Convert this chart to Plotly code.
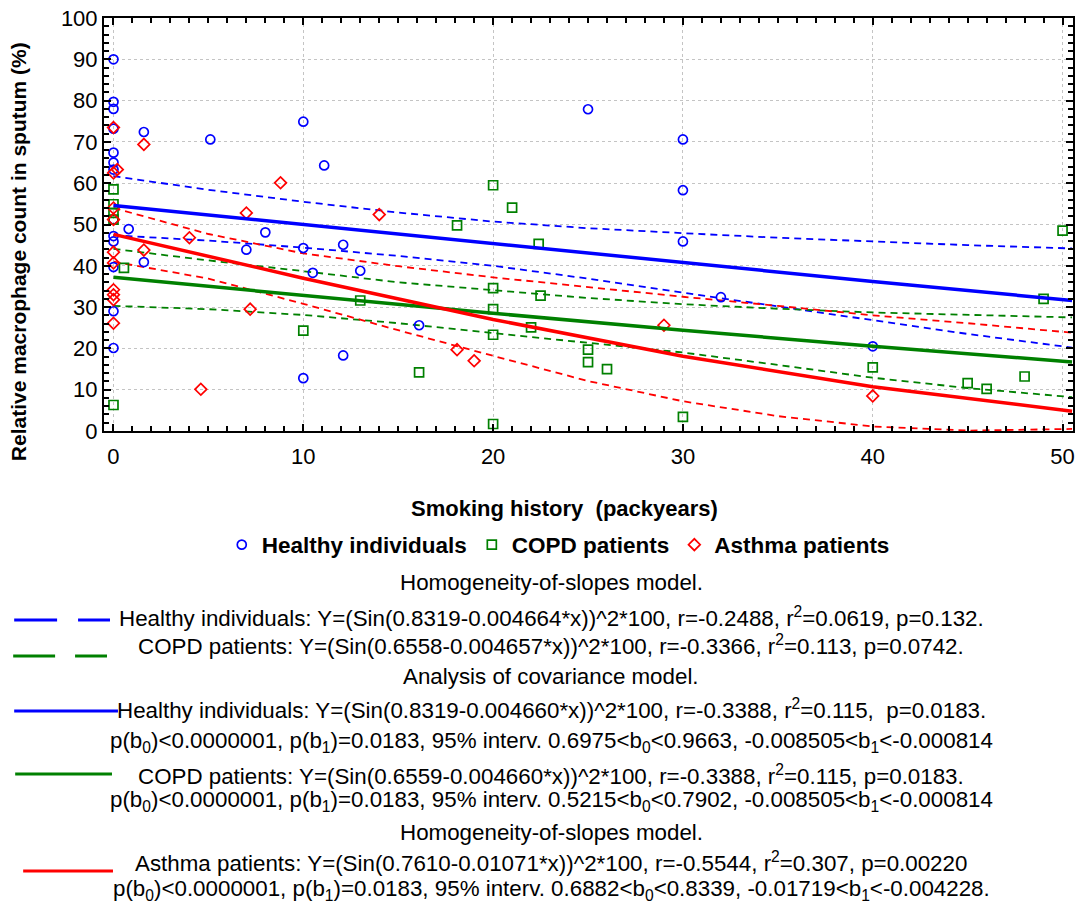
import plotly.graph_objects as go

# ---------------- data ----------------
healthy_x = [0, 0, 0, 0, 0, 0, 0, 0, 0, 0, 0, 0, 0,
             0.8, 1.6, 1.6, 5.1, 7.0, 8.0, 10, 10, 10, 10.5, 11.1, 12.1, 12.1, 13.0, 16.1,
             25, 30, 30, 30, 32, 40]
healthy_y = [90.0, 79.7, 78.0, 73.2, 67.4, 65.0, 63.3, 51.2, 47.2, 45.9, 39.7, 29.0, 20.1,
             48.9, 72.4, 40.9, 70.6, 43.9, 48.1, 74.9, 44.3, 12.8, 38.3, 64.3, 45.1, 18.3, 38.8, 25.6,
             77.9, 70.6, 58.3, 45.9, 32.4, 20.5]

copd_x = [0, 0, 0, 0, 0, 0.55, 10, 13, 16.1, 18.1, 20, 20, 20, 20, 20, 21, 22, 22.4, 22.5,
          25, 25, 26, 30, 40, 45, 46, 48, 49, 50]
copd_y = [58.5, 54.9, 52.8, 51.2, 6.3, 39.5, 24.3, 31.6, 14.2, 49.8, 59.5, 34.6, 29.5, 23.3, 1.7,
          54.1, 25.1, 45.3, 32.8, 19.7, 16.7, 15.0, 3.4, 15.4, 11.6, 10.2, 13.2, 32.0, 48.5]

asthma_x = [0, 0.2, 0, 0, 0, 0, 0, 0, 0, 0, 0,
            1.6, 1.6, 4.0, 4.6, 7.0, 7.2, 8.8, 14, 18.1, 19, 29, 40]
asthma_y = [73.5, 63.3, 62.5, 54.0, 51.2, 43.3, 40.7, 34.2, 33.0, 31.8, 26.1,
            69.4, 43.8, 46.8, 10.1, 52.8, 29.5, 60.1, 52.4, 19.7, 17.0, 25.6, 8.5]

# fitted curves
fit_x = [0, 10, 20, 30, 40, 50.5]
healthy_fit = [54.6, 50.0, 45.3, 40.7, 36.2, 31.6]
copd_fit = [37.2, 32.8, 28.5, 24.4, 20.5, 16.7]
asthma_fit = [47.6, 37.0, 27.0, 18.1, 10.7, 4.8]

# 95% confidence bands (dashed)
band_x = [0, 5, 10, 15, 20, 25, 30, 35, 40, 45, 50.5]
healthy_up = [61.7, 58.4, 55.5, 52.9, 50.7, 49.1, 47.9, 46.8, 45.9, 45.0, 44.2]
healthy_lo = [47.4, 46.1, 44.4, 42.4, 40.0, 36.9, 33.5, 30.2, 26.8, 23.5, 20.2]
copd_up = [44.1, 41.3, 38.7, 36.0, 34.1, 32.2, 30.7, 29.6, 28.7, 28.1, 27.5]
copd_lo = [30.3, 29.5, 28.1, 26.1, 23.7, 21.4, 19.0, 16.0, 12.9, 10.4, 8.2]
asthma_up = [54.0, 47.7, 43.0, 39.9, 37.2, 34.8, 32.5, 30.3, 28.0, 26.1, 23.8]
asthma_lo = [41.0, 36.9, 30.8, 24.4, 18.2, 12.1, 7.2, 3.6, 1.1, 0.1, 0.5]

series_names = ["Healthy individuals", "COPD patients", "Asthma patients"]
x_tick_vals = [0, 10, 20, 30, 40, 50]
y_tick_vals = [0, 10, 20, 30, 40, 50, 60, 70, 80, 90, 100]

notes = [
    "Homogeneity-of-slopes model.",
    "Healthy individuals: Y=(Sin(0.8319-0.004664*x))^2*100, r=-0.2488, r<sup>2</sup>=0.0619, p=0.132.",
    "COPD patients: Y=(Sin(0.6558-0.004657*x))^2*100, r=-0.3366, r<sup>2</sup>=0.113, p=0.0742.",
    "Analysis of covariance model.",
    "Healthy individuals: Y=(Sin(0.8319-0.004660*x))^2*100, r=-0.3388, r<sup>2</sup>=0.115,&nbsp; p=0.0183.",
    "p(b<sub>0</sub>)&lt;0.0000001, p(b<sub>1</sub>)=0.0183, 95% interv. 0.6975&lt;b<sub>0</sub>&lt;0.9663, -0.008505&lt;b<sub>1</sub>&lt;-0.000814",
    "COPD patients: Y=(Sin(0.6559-0.004660*x))^2*100, r=-0.3388, r<sup>2</sup>=0.115, p=0.0183.",
    "p(b<sub>0</sub>)&lt;0.0000001, p(b<sub>1</sub>)=0.0183, 95% interv. 0.5215&lt;b<sub>0</sub>&lt;0.7902, -0.008505&lt;b<sub>1</sub>&lt;-0.000814",
    "Homogeneity-of-slopes model.",
    "Asthma patients: Y=(Sin(0.7610-0.01071*x))^2*100, r=-0.5544, r<sup>2</sup>=0.307, p=0.00220",
    "p(b<sub>0</sub>)&lt;0.0000001, p(b<sub>1</sub>)=0.0183, 95% interv. 0.6882&lt;b<sub>0</sub>&lt;0.8339, -0.01719&lt;b<sub>1</sub>&lt;-0.004228.",
]

# ---------------- styling / layout ----------------
W, H = 1079, 913
L, R, T, B = 104, 1075, 18, 431          # plot area in pixels
FONT = "Liberation Sans, Arial, sans-serif"
BLUE, GREEN, RED = "#0000ff", "#008000", "#ff0000"


def px_x(p):
    return (p - L) / (R - L)


def px_y(p):
    return (B - p) / (B - T)


fig = go.Figure()

# dashed confidence bands
for xs, ys, c in [(band_x, healthy_up, BLUE), (band_x, healthy_lo, BLUE),
                  (band_x, copd_up, GREEN), (band_x, copd_lo, GREEN),
                  (band_x, asthma_up, RED), (band_x, asthma_lo, RED)]:
    fig.add_trace(go.Scatter(x=xs, y=ys, mode="lines", showlegend=False, hoverinfo="skip",
                             line=dict(color=c, width=1.8, dash="7px,5px")))

# scatter points
for xs, ys, name, sym, c in [(healthy_x, healthy_y, series_names[0], "circle-open", BLUE),
                             (copd_x, copd_y, series_names[1], "square-open", GREEN),
                             (asthma_x, asthma_y, series_names[2], "diamond-open", RED)]:
    fig.add_trace(go.Scatter(x=xs, y=ys, mode="markers", name="<b>" + name + "</b>",
                             marker=dict(symbol=sym, size=9, color=c, line=dict(width=1.7, color=c))))

# solid fitted curves
for ys, c in [(healthy_fit, BLUE), (copd_fit, GREEN), (asthma_fit, RED)]:
    fig.add_trace(go.Scatter(x=fit_x, y=ys, mode="lines", showlegend=False, hoverinfo="skip",
                             line=dict(color=c, width=3.5)))

axis_common = dict(
    showline=True, linecolor="black", linewidth=2, mirror="allticks",
    ticks="inside", ticklen=7, tickwidth=2, tickcolor="black",
    showgrid=True, gridcolor="#c4c4c4", gridwidth=1, griddash="dot",
    zeroline=False, tickfont=dict(family=FONT, size=22, color="black"),
)

fig.update_xaxes(range=[-0.5, 50.55], tickmode="array", tickvals=x_tick_vals,
                 ticklabelstandoff=5,
                 minor=dict(ticks="inside", ticklen=5, tickwidth=1.5, dtick=1, tickcolor="black", showgrid=False),
                 **axis_common)
fig.update_yaxes(range=[0, 100], tickmode="array", tickvals=y_tick_vals,
                 minor=dict(ticks="inside", ticklen=5, tickwidth=1.5, dtick=2, tickcolor="black", showgrid=False),
                 **axis_common)

annotations = []
# axis titles
annotations.append(dict(text="<b>Smoking history&nbsp; (packyears)</b>", x=px_x(565), y=px_y(508),
                        xref="paper", yref="paper", showarrow=False, xanchor="center", yanchor="middle",
                        font=dict(family=FONT, size=22, color="black")))
annotations.append(dict(text="<b>Relative macrophage count in sputum (%)</b>", x=px_x(19), y=px_y(252),
                        xref="paper", yref="paper", showarrow=False, xanchor="center", yanchor="middle",
                        textangle=-90, font=dict(family=FONT, size=21, color="black")))
# statistics text
note_y = [582, 617, 645, 676, 709, 742, 775, 801, 832, 862, 890]
for t, yy in zip(notes, note_y):
    annotations.append(dict(text=t, x=px_x(552), y=px_y(yy), xref="paper", yref="paper",
                            showarrow=False, xanchor="center", yanchor="middle",
                            font=dict(family=FONT, size=22.35, color="black")))

shapes = []
# line-style keys for the statistics text
keys = [((14, 57), 620, BLUE), ((78, 110), 620, BLUE),
        ((13, 55), 656, GREEN), ((75, 107), 656, GREEN),
        ((14, 118), 711, BLUE), ((15, 112), 774, GREEN), ((23, 113), 871, RED)]
for (x0, x1), yy, c in keys:
    shapes.append(dict(type="line", xref="paper", yref="paper",
                       x0=px_x(x0), x1=px_x(x1), y0=px_y(yy), y1=px_y(yy),
                       line=dict(color=c, width=3)))

fig.update_layout(
    width=W, height=H,
    margin=dict(l=L, r=W - R, t=T, b=H - B, pad=0),
    paper_bgcolor="white", plot_bgcolor="white",
    font=dict(family=FONT, size=22, color="black"),
    showlegend=True,
    legend=dict(orientation="h", x=px_x(222), y=px_y(545), xanchor="left", yanchor="middle",
                font=dict(family=FONT, size=22.5, color="black"), bgcolor="rgba(0,0,0,0)",
                itemsizing="trace", traceorder="normal"),
    annotations=annotations,
    shapes=shapes,
)

fig.write_html("out.html")
